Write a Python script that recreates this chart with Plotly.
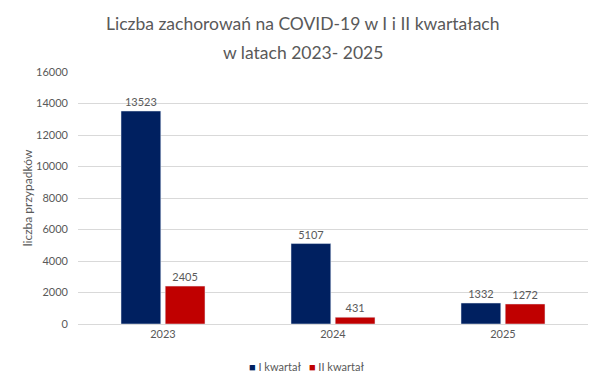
import plotly.graph_objects as go

years = ["2023", "2024", "2025"]
q1 = [13523, 5107, 1332]
q2 = [2405, 431, 1272]
series_names = ["I kwartał", "II kwartał"]
series_colors = ["#002060", "#C00000"]
y_ticks = [0, 2000, 4000, 6000, 8000, 10000, 12000, 14000, 16000]
title_lines = ["Liczba zachorowań na COVID-19 w I i II kwartałach", "w latach 2023- 2025"]

font_family = "Lato, 'Open Sans', sans-serif"
grey = "#595959"

fig = go.Figure()
for name, vals, col in zip(series_names, [q1, q2], series_colors):
    fig.add_trace(go.Bar(x=years, y=vals, name=name, marker_color=col,
                         text=vals, textposition="outside", cliponaxis=False,
                         textfont=dict(size=11, color=grey, family=font_family)))

legend_text = "&nbsp;&nbsp;&nbsp;".join(
    f"<span style='color:{c}'>■</span> {n}" for n, c in zip(series_names, series_colors))

fig.update_layout(
    width=604, height=377,
    paper_bgcolor="white", plot_bgcolor="white",
    margin=dict(l=70, r=24, t=64, b=61, autoexpand=False),
    barmode="group", bargap=0.48, bargroupgap=0.1,
    font=dict(family=font_family, color=grey, size=11),
    showlegend=False,
    title=dict(text=title_lines[0], x=0.488, xanchor="center", y=0.9576, yanchor="middle",
               font=dict(size=17.5, color=grey, family=font_family)),
    xaxis=dict(showgrid=False, showline=True, linecolor="#d9d9d9", ticks="",
               tickfont=dict(size=11, color=grey), automargin=False),
    yaxis=dict(range=[0, 16000], tickvals=y_ticks, ticktext=[str(v) for v in y_ticks],
               showgrid=True, gridcolor="#d9d9d9", automargin=False,
               zeroline=False, ticks="", ticklen=0, ticklabelstandoff=9,
               title=dict(text="liczba przypadków", font=dict(size=12, color=grey), standoff=0),
               tickfont=dict(size=11, color=grey)),
    annotations=[
        dict(text=title_lines[1], xref="paper", yref="paper", x=0.441, y=1.079,
             xanchor="center", yanchor="middle", showarrow=False,
             font=dict(size=17.5, color=grey, family=font_family)),
        dict(text=legend_text, xref="paper", yref="paper", x=0.448, y=-0.1667,
             xanchor="center", yanchor="middle", showarrow=False,
             font=dict(size=11, color=grey, family=font_family)),
    ],
)

fig.write_html("out.html")
